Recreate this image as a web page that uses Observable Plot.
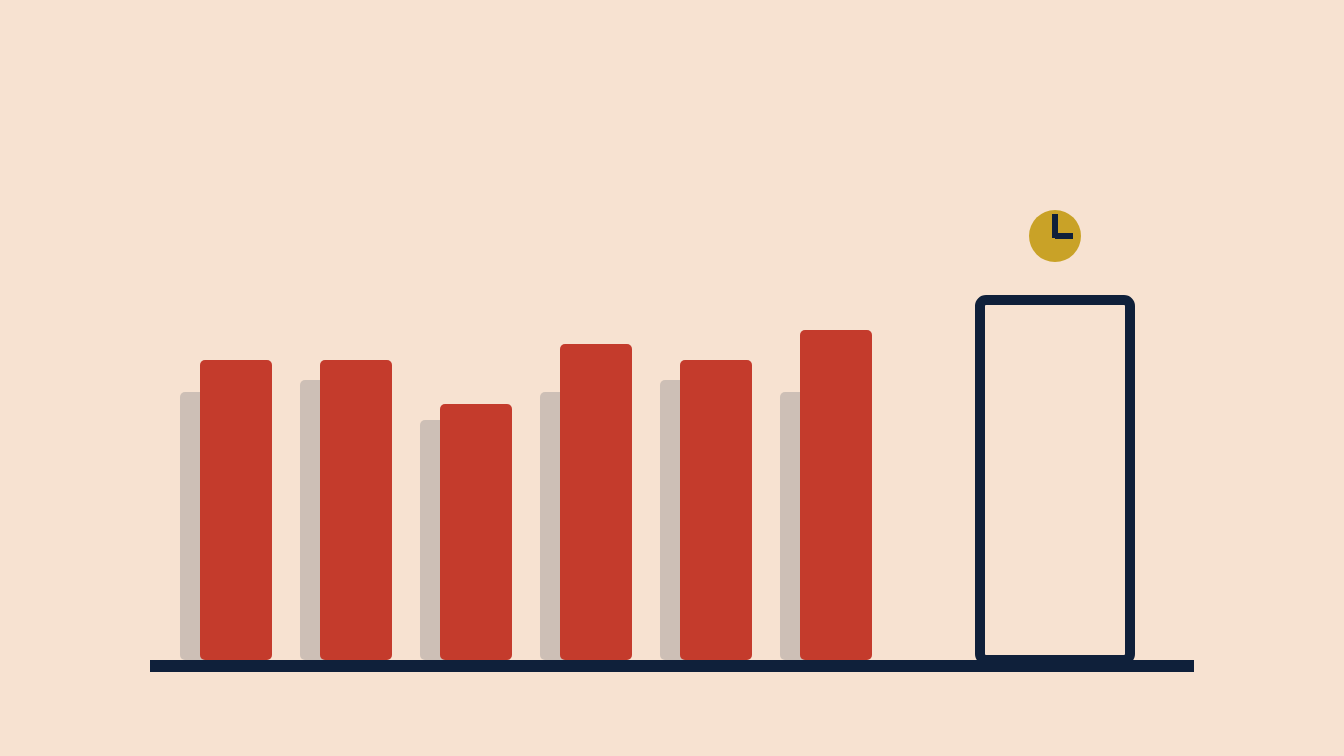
<!DOCTYPE html>
<html>
<head>
<meta charset="utf-8">
<script src="https://cdn.jsdelivr.net/npm/d3@7"></script>
<script src="https://cdn.jsdelivr.net/npm/@observablehq/plot@0.6"></script>
<style>
html,body{margin:0;padding:0;background:#f7e2d1;overflow:hidden}
svg{display:block}
</style>
</head>
<body>
<div id="chart"></div>
<script>
const categories = [0, 1, 2, 3, 4, 5];
const backValues = [134, 140, 120, 134, 140, 134];
const frontValues = [150, 150, 128, 158, 150, 165];
const outlineValue = 180;
const clockValue = 212;

const colors = {bg: "#f7e2d1", back: "#cdbfb6", front: "#c43b2c", navy: "#0f203a", gold: "#c9a227"};

// x scale is in slots of 120px; the layout constants below are in slots
const SLOT = 120;
const backStart = 1.5, frontStart = 1.5 + 20 / SLOT, barWidth = 72 / SLOT;
const outlineLeft = 980 / SLOT, outlineRight = 1130 / SLOT;
const baseLeft = 150 / SLOT, baseRight = 1194 / SLOT, baseDepth = -6;
const clockX = 1055 / SLOT, clockHandX = 1073 / SLOT;

const backRows = categories.map((c, i) => ({x1: backStart + c, x2: backStart + c + barWidth, y: backValues[i]}));
const frontRows = categories.map((c, i) => ({x1: frontStart + c, x2: frontStart + c + barWidth, y: frontValues[i]}));

const chart = Plot.plot({
  width: 1344,
  height: 756,
  margin: 0,
  style: {background: colors.bg},
  x: {axis: null, domain: [0, 1344 / SLOT], range: [0, 1344]},
  y: {axis: null, domain: [-48, 330], range: [756, 0]},
  marks: [
    Plot.rect(backRows, {x1: "x1", x2: "x2", y1: 0, y2: "y", fill: colors.back, rx: 5}),
    Plot.rect(frontRows, {x1: "x1", x2: "x2", y1: 0, y2: "y", fill: colors.front, rx: 5}),
    Plot.rect([outlineValue], {x1: outlineLeft, x2: outlineRight, y1: 0, y2: d => d, fill: "none", stroke: colors.navy, strokeWidth: 10, rx: 6}),
    Plot.rect([baseDepth], {x1: baseLeft, x2: baseRight, y1: 0, y2: d => d, fill: colors.navy}),
    Plot.dot([clockValue], {x: clockX, y: d => d, r: 26, fill: colors.gold, dx: -0.5, dy: -0.5}),
    Plot.ruleX([clockX], {y1: clockValue - 1, y2: clockValue + 11, stroke: colors.navy, strokeWidth: 6, dx: -0.5}),
    Plot.ruleY([clockValue], {x1: clockX, x2: clockHandX, stroke: colors.navy, strokeWidth: 6, dy: -0.5})
  ]
});
document.getElementById("chart").appendChild(chart);
</script>
</body>
</html>
